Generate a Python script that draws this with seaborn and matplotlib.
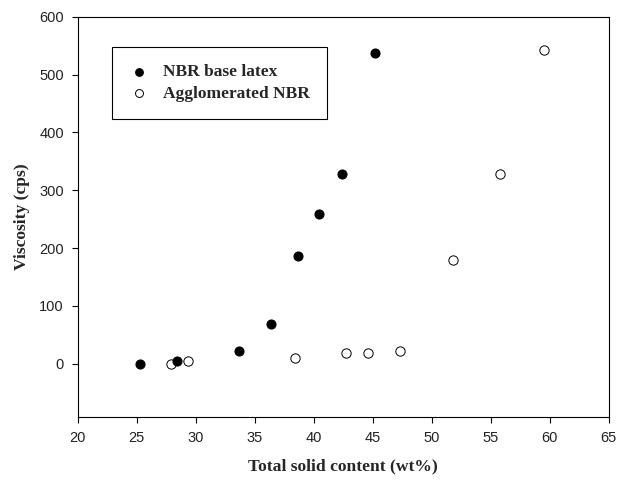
import matplotlib
matplotlib.use("Agg")
import matplotlib.pyplot as plt
import seaborn as sns
import pandas as pd

# NBR base latex (filled)
base_tsc = [25.3, 28.4, 33.7, 36.4, 38.7, 40.4, 42.4, 45.2]
base_visc = [0, 5, 22, 69, 186, 259, 329, 538]
# Agglomerated NBR (open)
aggl_tsc = [27.9, 29.3, 38.4, 42.7, 44.6, 47.3, 51.8, 55.8, 59.5]
aggl_visc = [0, 5, 10, 19, 19, 22, 180, 328, 543]

x_ticks = [20, 25, 30, 35, 40, 45, 50, 55, 60, 65]
y_ticks = [0, 100, 200, 300, 400, 500, 600]

sns.set_style("white")
plt.rcParams['font.family'] = ['Liberation Sans', 'DejaVu Sans']

df_base = pd.DataFrame({"tsc": base_tsc, "visc": base_visc})
df_aggl = pd.DataFrame({"tsc": aggl_tsc, "visc": aggl_visc})

fig = plt.figure(figsize=(6.18, 4.83), dpi=100)
ax = fig.add_axes([0.126, 0.137, 0.859, 0.828])

sns.scatterplot(data=df_base, x="tsc", y="visc", ax=ax, color="black",
                edgecolor="black", s=42, linewidth=0.8, label="NBR base latex", zorder=3)
sns.scatterplot(data=df_aggl, x="tsc", y="visc", ax=ax, facecolor="white",
                edgecolor="black", s=45, linewidth=0.7, label="Agglomerated NBR", zorder=2)

ax.set_xlim(20, 65)
ax.set_ylim(-92, 600)
ax.set_xticks(x_ticks)
ax.set_yticks(y_ticks)
ax.tick_params(axis='both', which='major', direction='out', length=4, width=0.8,
               labelsize=10.5, color='black', labelcolor='#222222', bottom=True, left=True,
               pad=6)
for sp in ax.spines.values():
    sp.set_visible(True)
    sp.set_color('black')
    sp.set_linewidth(0.8)

serif_bold = dict(family=['Liberation Serif', 'DejaVu Serif'], weight='bold', size=12.6)
ax.set_xlabel("Total solid content (wt%)", fontdict=serif_bold, labelpad=10)
ax.set_ylabel("Viscosity (cps)", fontdict=serif_bold, labelpad=7)

leg = ax.legend(loc='upper left', bbox_to_anchor=(0.064, 0.925), frameon=True,
                fancybox=False, edgecolor='black', framealpha=1,
                prop={'family': ['Liberation Serif'], 'weight': 'bold', 'size': 12.5},
                markerscale=0.85, handletextpad=0.83, borderpad=1.0, labelspacing=0.3,
                handlelength=1.1, borderaxespad=0)
leg.get_frame().set_linewidth(0.8)

fig.savefig("out.png", dpi=100)
